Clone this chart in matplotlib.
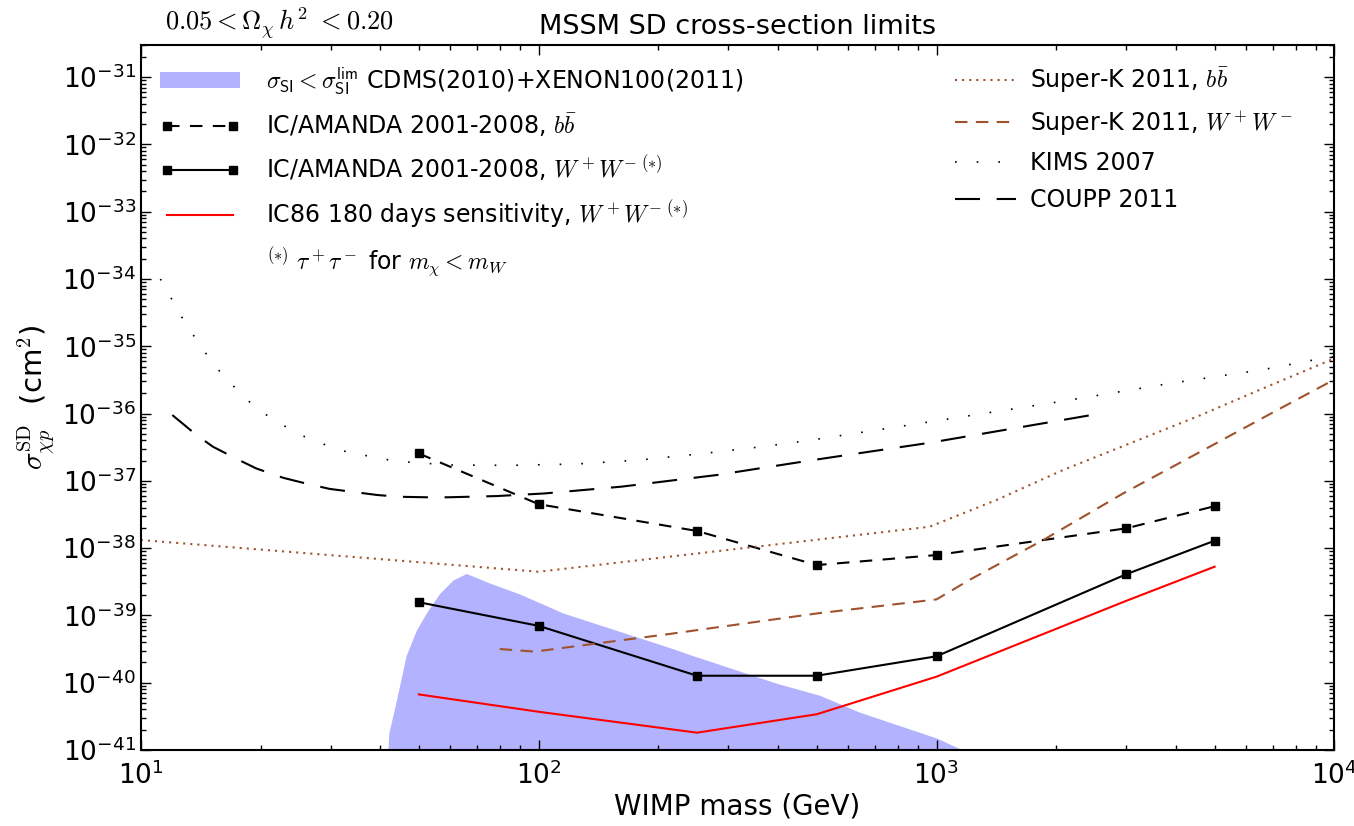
import numpy as np
import matplotlib
matplotlib.use("Agg")
import matplotlib.pyplot as plt
from matplotlib.ticker import LogLocator, NullFormatter, FuncFormatter

plt.rcParams['mathtext.fontset'] = 'cm'
plt.rcParams['font.family'] = 'DejaVu Sans'

# CDMS(2010)+XENON100(2011) allowed region (upper edge)
blue_mass = [41.0, 42.0, 43.9, 46.4, 49.3, 52.6, 56.4, 60.9, 65.8, 75.3, 89.6, 102.3,
             114.9, 144.8, 213.5, 243.9, 396.6, 508.7, 641.4, 1002, 1164, 1300]
blue_sigma = [1e-42, 1.77e-41, 5.5e-41, 2.5e-40, 6.1e-40, 1.17e-39, 2.13e-39, 3.36e-39,
              4.2e-39, 3.03e-39, 2.08e-39, 1.48e-39, 1.09e-39, 7.0e-40, 3.32e-40, 2.53e-40,
              9.8e-41, 6.5e-41, 3.64e-41, 1.5e-41, 1.0e-41, 7e-42]

# IceCube / AMANDA
ic_mass = [50, 100, 250, 500, 1000, 3000, 5000]
ic_bb = [2.55e-37, 4.5e-38, 1.8e-38, 5.6e-39, 7.9e-39, 1.97e-38, 4.2e-38]
ic_ww = [1.57e-39, 7.0e-40, 1.27e-40, 1.27e-40, 2.47e-40, 4.1e-39, 1.29e-38]

# IC86 sensitivity
ic86_mass = [50, 100, 250, 500, 1000, 3000, 5000]
ic86_ww = [6.7e-41, 3.7e-41, 1.81e-41, 3.4e-41, 1.23e-40, 1.65e-39, 5.3e-39]

# Super-K 2011
sk_bb_mass = [10, 100, 961, 1415, 2081, 3062, 4509, 6624, 9750, 10000]
sk_bb = [1.32e-38, 4.46e-39, 2.08e-38, 5.2e-38, 1.45e-37, 3.6e-37, 8.97e-37, 2.37e-36,
         6.2e-36, 6.8e-36]
sk_ww_mass = [79.8, 97.7, 213, 500, 1000, 1213, 1854, 2944, 4775, 7442, 10000]
sk_ww = [3.17e-40, 2.9e-40, 5.3e-40, 1.07e-39, 1.73e-39, 3.4e-39, 1.32e-38, 6.5e-38,
         3.04e-37, 1.26e-36, 3.2e-36]

# KIMS 2007
kims_mass = [11.2, 11.97, 12.7, 13.6, 14.6, 15.7, 17.1, 18.7, 20.6, 22.9, 25.5, 28.6,
             32.1, 36.2, 41.0, 46.2, 52.4, 59.2, 86, 124.5, 179.5, 261, 377, 480, 1000,
             2080, 3865, 6624, 9040, 10000]
kims = [1.0e-34, 4.97e-35, 2.65e-35, 1.42e-35, 7.7e-36, 4.4e-36, 2.56e-36, 1.52e-36,
        9.7e-37, 6.6e-37, 4.68e-37, 3.56e-37, 2.8e-37, 2.42e-37, 2.09e-37, 1.92e-37,
        1.82e-37, 1.72e-37, 1.70e-37, 1.78e-37, 2.04e-37, 2.56e-37, 3.3e-37, 4.0e-37,
        7.8e-37, 1.53e-36, 2.81e-36, 4.5e-36, 6.4e-36, 7.0e-36]

# COUPP 2011
coupp_mass = [12.0, 13.8, 15.2, 17.5, 19.5, 22.8, 25.5, 29.8, 33.8, 39.4, 44.7, 52.4,
              59.2, 78.3, 103.5, 161.5, 280, 490, 961, 2500]
coupp = [9.5e-37, 4.8e-37, 3.2e-37, 2.09e-37, 1.53e-37, 1.11e-37, 9.4e-38, 7.6e-38,
         6.9e-38, 6.15e-38, 5.8e-38, 5.7e-38, 5.7e-38, 5.94e-38, 6.5e-38, 8.2e-38,
         1.22e-37, 2.04e-37, 3.68e-37, 9.7e-37]

brown = '#a0522d'

fig = plt.figure(figsize=(13.54, 8.26), dpi=100)
ax = fig.add_axes([0.104, 0.092, 0.8815, 0.8535])

h_blue = ax.fill_between(blue_mass, 1e-43, blue_sigma, color='blue', alpha=0.3, lw=0,
                         label=r'$\sigma_{\mathsf{SI}} < \sigma_{\mathsf{SI}}^{\mathsf{lim}}$ CDMS(2010)+XENON100(2011)')
h_bb, = ax.plot(ic_mass, ic_bb, color='black', lw=1.5, ls=(0, (6, 5)), marker='s', ms=6,
                label=r'IC/AMANDA 2001-2008, $b\bar{b}$')
h_ww, = ax.plot(ic_mass, ic_ww, color='black', lw=1.5, marker='s', ms=6,
                label=r'IC/AMANDA 2001-2008, $W^+W^{-\ (*)}$')
h_86, = ax.plot(ic86_mass, ic86_ww, color='red', lw=1.5,
                label=r'IC86 180 days sensitivity, $W^+W^{-\ (*)}$')
h_note, = ax.plot([], [], color='none',
                  label=r'$^{(*)}\ \tau^+\tau^-$ for $m_\chi < m_W$')

h_skbb, = ax.plot(sk_bb_mass, sk_bb, color=brown, lw=1.5, ls=(0, (1, 2.4)),
                  label=r'Super-K 2011, $b\bar{b}$')
h_skww, = ax.plot(sk_ww_mass, sk_ww, color=brown, lw=1.5, ls=(0, (6, 4)),
                  label=r'Super-K 2011, $W^+W^-$')
h_kims, = ax.plot(kims_mass, kims, color='black', lw=1.2, ls=(0, (1, 12)),
                  label='KIMS 2007')
h_coupp, = ax.plot(coupp_mass, coupp, color='black', lw=1.5, ls=(0, (12, 8)),
                   label='COUPP 2011')

ax.set_xscale('log')
ax.set_yscale('log')
ax.set_xlim(10, 1e4)
ax.set_ylim(1e-41, 3e-31)

fmt = FuncFormatter(lambda v, p: r'$\mathdefault{10^{%d}}$' % round(np.log10(v)))
for axis in (ax.xaxis, ax.yaxis):
    axis.set_major_locator(LogLocator(base=10, numticks=30))
    axis.set_minor_locator(LogLocator(base=10, subs=np.arange(2, 10), numticks=30))
    axis.set_minor_formatter(NullFormatter())
    axis.set_major_formatter(fmt)

ax.tick_params(which='both', direction='in', top=True, right=True, labelsize=19)
ax.tick_params(which='major', length=7, width=1)
ax.tick_params(which='minor', length=3.5, width=1)
ax.tick_params(axis='x', pad=8)
for s in ax.spines.values():
    s.set_linewidth(1.5)

ax.set_xlabel('WIMP mass (GeV)', fontsize=20, labelpad=2)
ax.set_ylabel(r'$\sigma^{\rm SD}_{\chi p}$  (cm$^2$)', fontsize=21, labelpad=4)
ax.set_title('MSSM SD cross-section limits', fontsize=19.5, pad=8)
ax.text(0.02, 1.021, r'$0.05 < \Omega_\chi\, h^2\ < 0.20$', transform=ax.transAxes,
        fontsize=19, va='baseline')

leg1 = ax.legend(handles=[h_blue, h_bb, h_ww, h_86, h_note], loc='upper left',
                 bbox_to_anchor=(0.016, 0.971), frameon=False, fontsize=17,
                 numpoints=2, handlelength=3.4, handletextpad=1.1,
                 labelspacing=0.62, borderpad=0, borderaxespad=0)
ax.add_artist(leg1)
ax.legend(handles=[h_skbb, h_skww, h_kims, h_coupp], loc='upper left',
          bbox_to_anchor=(0.682, 0.971), frameon=False, fontsize=17,
          handlelength=2.6, handletextpad=0.6, labelspacing=0.57,
          borderpad=0, borderaxespad=0)

fig.savefig('out.png', dpi=100)
